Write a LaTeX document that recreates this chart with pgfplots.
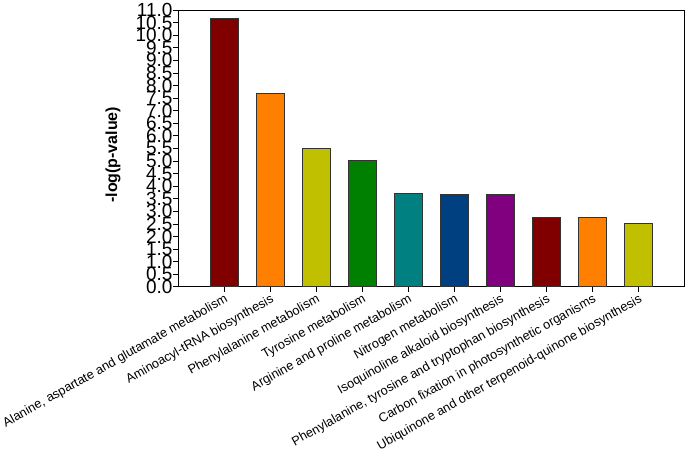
\documentclass[border=0pt]{standalone}
\usepackage{fontspec}
\setmainfont{Liberation Sans}
\usepackage{pgfplots}
\pgfplotsset{compat=1.18}
\definecolor{c1}{RGB}{128,0,0}
\definecolor{c2}{RGB}{255,128,0}
\definecolor{c3}{RGB}{192,192,0}
\definecolor{c4}{RGB}{0,128,0}
\definecolor{c5}{RGB}{0,128,128}
\definecolor{c6}{RGB}{0,64,128}
\definecolor{c7}{RGB}{128,0,128}
\begin{document}
\begin{tikzpicture}
\begin{axis}[
  scale only axis,
  width=505bp, height=276bp,
  xmin=-1, xmax=10,
  ymin=0, ymax=11,
  ytick={0,0.5,...,11},
  yticklabel style={/pgf/number format/.cd, fixed, fixed zerofill, precision=1, /tikz/.cd, font=\fontsize{19}{19}\selectfont, inner xsep=0.5pt},
  /pgf/number format/assume math mode=true,
  xtick={0,1,2,3,4,5,6,7,8,9},
  xticklabels={
    {Alanine, aspartate and glutamate metabolism},
    {Aminoacyl-tRNA biosynthesis},
    {Phenylalanine metabolism},
    {Tyrosine metabolism},
    {Arginine and proline metabolism},
    {Nitrogen metabolism},
    {Isoquinoline alkaloid biosynthesis},
    {Phenylalanine, tyrosine and tryptophan biosynthesis},
    {Carbon fixation in photosynthetic organisms},
    {Ubiquinone and other terpenoid-quinone biosynthesis}},
  xticklabel style={rotate=29.5, anchor=north east, font=\fontsize{12.75}{12.75}\selectfont, inner sep=1pt},
  tick align=outside,
  major tick length=5bp,
  tick style={black, line width=0.8pt},
  axis line style={black, line width=0.8pt},
  xtick pos=bottom, ytick pos=left,
  ylabel={\bfseries -log(p-value)},
  ylabel style={font=\fontsize{16}{16}\selectfont, at={(axis description cs:-0.129,0.477)}, anchor=center},
  ybar, bar width=27.5bp, bar shift=0pt,
]
\addplot[fill=c1, draw=black!80, line width=0.8pt] coordinates {(0,10.65)};
\addplot[fill=c2, draw=black!80, line width=0.8pt] coordinates {(1,7.69)};
\addplot[fill=c3, draw=black!80, line width=0.8pt] coordinates {(2,5.51)};
\addplot[fill=c4, draw=black!80, line width=0.8pt] coordinates {(3,5.01)};
\addplot[fill=c5, draw=black!80, line width=0.8pt] coordinates {(4,3.73)};
\addplot[fill=c6, draw=black!80, line width=0.8pt] coordinates {(5,3.66)};
\addplot[fill=c7, draw=black!80, line width=0.8pt] coordinates {(6,3.66)};
\addplot[fill=c1, draw=black!80, line width=0.8pt] coordinates {(7,2.76)};
\addplot[fill=c2, draw=black!80, line width=0.8pt] coordinates {(8,2.76)};
\addplot[fill=c3, draw=black!80, line width=0.8pt] coordinates {(9,2.54)};
\end{axis}
\end{tikzpicture}
\end{document}
